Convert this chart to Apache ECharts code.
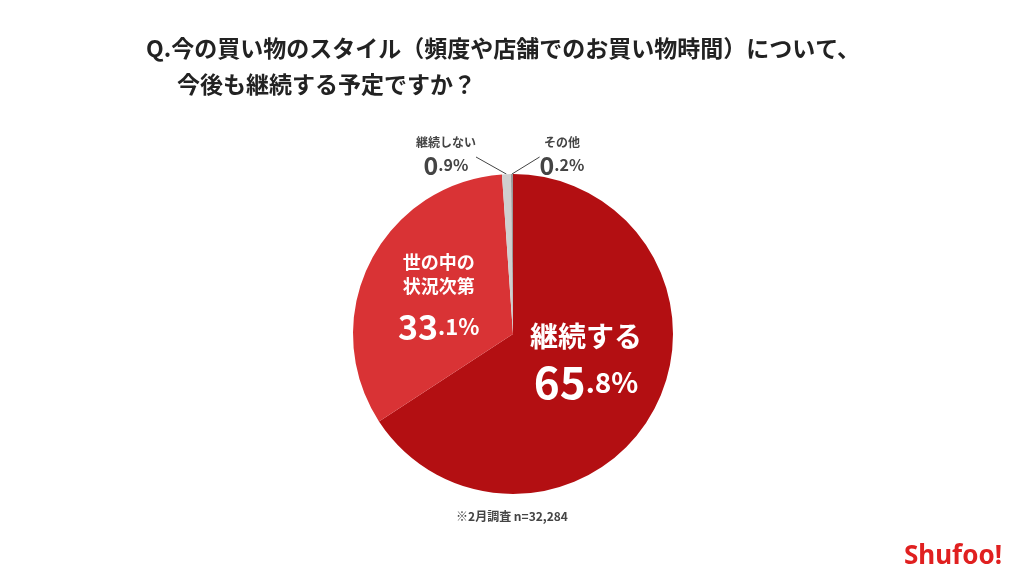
<!DOCTYPE html>
<html><head><meta charset="utf-8">
<script src="https://cdn.jsdelivr.net/npm/echarts@6/dist/echarts.min.js"></script>
<style>html,body{margin:0;background:#fff}#c{width:1024px;height:584px}</style></head>
<body><div id="c"></div>
<script>
const categories = ['継続する', '世の中の\n状況次第', '継続しない', 'その他'];
const values = [65.8, 33.1, 0.9, 0.2];
const colors = ['#b30f12', '#d93335', '#cfcfcf', '#9a9a9a'];
const F = '"Noto Sans CJK JP", sans-serif';
const chart = echarts.init(document.getElementById('c'));
chart.setOption({
  animation: false,
  graphic: [
    {type:'text', left:146, top:37, style:{text:'Q.今の買い物のスタイル（頻度や店舗でのお買い物時間）について、', font:'bold 23px '+F, fill:'#222'}},
    {type:'text', left:177, top:73, style:{text:'今後も継続する予定ですか？', font:'bold 23px '+F, fill:'#222'}},
    {type:'text', left:'center', top:510, style:{text:'※2月調査 n=32,284', font:'bold 12px '+F, fill:'#444'}},
    {type:'text', right:22, top:544, style:{text:'Shufoo!', font:'bold 26px "Noto Sans", sans-serif', fill:'#e02020'}}
  ],
  series: [{
    type:'pie', center:[513,334], radius:[0,160], startAngle:90, clockwise:true,
    data: categories.map((n,i)=>({name:n, value:values[i], itemStyle:{color:colors[i]},
      label: i<2 ? {position:'inside', formatter: p=>'{n|'+p.name+'}\n{v|'+String(p.value).split('.')[0]+'}{s|.'+String(p.value).split('.')[1]+'%}', rich: i===0 ? {n:{fontSize:28,fontWeight:'bold',color:'#fff',fontFamily:F,lineHeight:48},v:{fontSize:44,fontWeight:'bold',color:'#fff',fontFamily:F,padding:[0,0,30,0]},s:{fontSize:28,fontWeight:'bold',color:'#fff',fontFamily:F,padding:[0,0,30,0]}} : {n:{fontSize:18,fontWeight:'bold',color:'#fff',fontFamily:F,lineHeight:24},v:{fontSize:34,fontWeight:'bold',color:'#fff',fontFamily:F,padding:[12,0,0,0]},s:{fontSize:22,fontWeight:'bold',color:'#fff',fontFamily:F,padding:[12,0,0,0]}}} :
      {position:'outside', formatter: p=>'{n|'+p.name+'}\n{v|'+String(p.value).split('.')[0]+'}{s|.'+String(p.value).split('.')[1]+'%}', align:'center',
       rich:{n:{fontSize:12,fontWeight:'bold',color:'#444',fontFamily:F,lineHeight:20,align:'center'},v:{fontSize:25,fontWeight:'bold',color:'#444',fontFamily:F},s:{fontSize:16,fontWeight:'bold',color:'#444',fontFamily:F}}},
      labelLine: {show: i>=2, lineStyle:{color:'#444', width:1}}
    })),
    labelLayout: p => p.dataIndex===2 ? {x:446,y:155,align:'center',verticalAlign:'middle'} : p.dataIndex===3 ? {x:562,y:155,align:'center',verticalAlign:'middle'} : {},
    labelLine:{length:10,length2:0}
  }]
});
</script></body></html>
